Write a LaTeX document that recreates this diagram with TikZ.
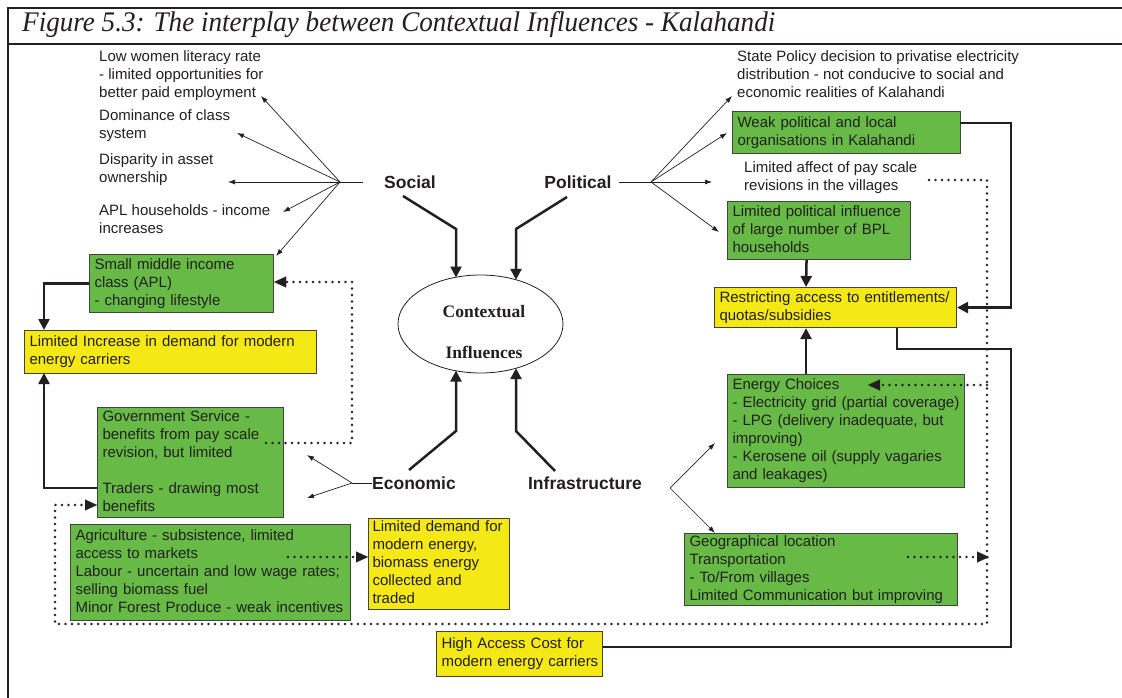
\documentclass[tikz,border=0pt]{standalone}
\usepackage{fontspec}
\setmainfont{Liberation Sans}
\newfontfamily\capfont{Liberation Serif}
\usetikzlibrary{arrows.meta,shapes.geometric}

\definecolor{ink}{HTML}{231F20}
\definecolor{boxgreen}{HTML}{67BA45}
\definecolor{boxyellow}{HTML}{F4E915}

% stacked, left-aligned lines that never rewrap
\newcommand\lns[1]{\begin{tabular}{@{}l@{}}#1\end{tabular}}

\begin{document}
\begin{tikzpicture}[x=1pt,y=-1pt,
  font=\fontsize{15}{18}\selectfont,
  every node/.style={text=ink},
  panel/.style={draw=ink!85, line width=1.1pt, anchor=north west,
    inner xsep=5pt, inner ysep=0pt, align=left},
  gbox/.style={panel, fill=boxgreen},
  ybox/.style={panel, fill=boxyellow},
  plain/.style={anchor=west, inner sep=0pt, align=left},
  factor/.style={font=\bfseries\fontsize{17.5}{20}\selectfont, inner sep=0pt},
  fan/.style={draw=ink, line width=0.7pt},
  fanarrow/.style={fan, -{Latex[length=7pt,width=5pt]}},
  heavy/.style={draw=ink, line width=2.5pt},
  feed/.style={heavy, -{Triangle[length=11pt,width=11pt]}},
  dots/.style={draw=ink, line width=2.7pt, line cap=round, dash pattern=on 0pt off 6.5pt},
  dotarrow/.style={dots, -{Triangle[length=12pt,width=11pt,line width=0.1pt]}}
]
\fill[white] (0,0) rectangle (1122,698);
\useasboundingbox (0,0) rectangle (1122,698);

% frame and caption
\draw[ink, line width=2pt] (1122,8) -- (8,8) -- (8,698);
\draw[ink, line width=2pt] (8,44) -- (1122,44);
\node[anchor=base west, inner sep=0pt] (title) at (22,32)
  {\resizebox{753pt}{20pt}{\capfont\itshape Figure 5.3: The interplay between Contextual Influences - Kalahandi}};

% central ellipse
\node[draw=ink, ellipse, line width=0.8pt, minimum width=165pt, minimum height=98pt, inner sep=0pt] (ctx) at (480.5,324) {};
\node[align=center, inner sep=0pt, font=\capfont\bfseries\fontsize{17.5}{41}\selectfont] (ctxtext) at (484,332.5)
  {Contextual\\Influences};

% the four influences
\node[factor] (social) at (410,182) {Social};
\node[factor] (political) at (578,182) {Political};
\node[factor] (economic) at (414,483) {Economic};
\node[factor] (infra) at (585,483) {Infrastructure};

% thick feeds into the ellipse
\draw[feed] (403,196) -- (456,229) -- (456,277.5);
\draw[feed] (567,197) -- (516,229) -- (516,279.8);
\draw[feed] (409,470) -- (456,431) -- (456,370.6);
\draw[feed] (555,471) -- (516,431) -- (516,368.2);

% ---- social side ----
\node[plain] (lowlit) at (99,76) {\lns{Low women literacy rate\\- limited opportunities for\\better paid employment}};
\node[plain] (domin) at (99,126) {\lns{Dominance of class\\system}};
\node[plain] (disp) at (99,170) {\lns{Disparity in asset\\ownership}};
\node[plain] (aplh) at (99,221) {\lns{APL households - income\\increases}};

\node[gbox, minimum width=184pt, minimum height=58pt, text width=174pt] (smi) at (89,254)
  {\lns{Small middle income\\class (APL)\\- changing lifestyle}};
\node[ybox, minimum width=292pt, minimum height=43pt, text width=282pt] (lid) at (24,330)
  {\lns{Limited Increase in demand for modern\\energy carriers}};

\coordinate (sj) at (340,182);
\coordinate (sjt) at (363,182);
\coordinate (tlow) at (261,96);
\coordinate (tdom) at (237,133);
\coordinate (tdis) at (228,182);
\coordinate (tapl) at (283,212);
\draw[fan] (sjt) -- (sj);
\draw[fanarrow] (sj) -- (tlow);
\draw[fanarrow] (sj) -- (tdom);
\draw[fanarrow] (sj) -- (tdis);
\draw[fanarrow] (sj) -- (tapl);
\draw[fanarrow] (sj) -- ([shift={(2pt,-2pt)}]smi.north east);

% ---- economic side ----
\node[gbox, minimum width=186pt, minimum height=110pt, text width=176pt] (gov) at (97,407)
  {\lns{Government Service -\\benefits from pay scale\\revision, but limited\\ \\Traders - drawing most\\benefits}};
\node[gbox, minimum width=280pt, minimum height=96pt, text width=270pt] (agr) at (70,524)
  {\lns{Agriculture - subsistence, limited\\access to markets\\Labour - uncertain and low wage rates;\\selling biomass fuel\\Minor Forest Produce - weak incentives}};
\node[ybox, minimum width=141pt, minimum height=91pt, inner xsep=4pt, text width=133pt] (ldm) at (368,518)
  {\lns{Limited demand for\\modern energy,\\biomass energy\\collected and\\traded}};
\node[ybox, minimum width=166pt, minimum height=45pt, text width=156pt] (hac) at (436,631)
  {\lns{High Access Cost for\\modern energy carriers}};

\coordinate (ej) at (352,483);
\coordinate (tgov1) at (307,455);
\coordinate (tgov2) at (307,498);
\draw[fan] (economic.west) -- (ej);
\draw[fanarrow] (ej) -- (tgov1);
\draw[fanarrow] (ej) -- (tgov2);

% solid links on the left
\coordinate (lidtop) at (44,330);
\coordinate (lidbot) at (44,373);
\coordinate (govtr) at (97,488);
\draw[feed] (smi.west) -| (lidtop);
\draw[feed] (govtr) -| (lidbot);

% dotted links on the left
\coordinate (govpay) at (266,443);
\draw[dotarrow] (govpay) -- (352,443) -- (352,282) -- (smi.east |- 0,282);
\coordinate (agrmk) at (288,557);
\draw[dotarrow] (agrmk) -- (ldm.west |- 0,557);

% ---- political side ----
\node[plain] (state) at (737,76) {\lns{State Policy decision to privatise electricity\\distribution - not conducive to social and\\economic realities of Kalahandi}};
\node[gbox, minimum width=228pt, minimum height=42pt, text width=218pt] (weak) at (732,111)
  {\lns{Weak political and local\\organisations in Kalahandi}};
\node[plain] (payrev) at (744,177.5) {\lns{Limited affect of pay scale\\revisions in the villages}};
\node[gbox, minimum width=183pt, minimum height=58pt, text width=173pt] (lpi) at (727,201)
  {\lns{Limited political influence\\of large number of BPL\\households}};
\node[ybox, minimum width=242pt, minimum height=40pt, text width=232pt] (rst) at (714,287)
  {\lns{Restricting access to entitlements/\\quotas/subsidies}};

\coordinate (pj) at (651,182);
\coordinate (pjt) at (619,182);
\coordinate (tstate) at (732,96);
\coordinate (tweak) at (727,133);
\coordinate (tpay) at (712,182);
\coordinate (tlpi) at (719,232);
\draw[fan] (pjt) -- (pj);
\draw[fanarrow] (pj) -- (tstate);
\draw[fanarrow] (pj) -- (tweak);
\draw[fanarrow] (pj) -- (tpay);
\draw[fanarrow] (pj) -- (tlpi);

% ---- infrastructure side ----
\node[gbox, minimum width=237pt, minimum height=113pt, text width=227pt] (enc) at (727,374)
  {\lns{Energy Choices\\- Electricity grid (partial coverage)\\- LPG (delivery inadequate, but\\improving)\\- Kerosene oil (supply vagaries\\and leakages)}};
\node[gbox, minimum width=273pt, minimum height=72pt, text width=263pt] (geo) at (684,533)
  {\lns{Geographical location\\Transportation\\- To/From villages\\Limited Communication but improving}};

\coordinate (ij) at (670,488);
\coordinate (tenc) at (715,443);
\coordinate (tgeo) at (715,533);
\draw[fanarrow] (ij) -- (tenc);
\draw[fanarrow] (ij) -- (tgeo);

% solid links on the right
\coordinate (wkout) at (960,123);
\draw[feed] (wkout) -- (1011,123) |- (rst.east);
\draw[feed] ([xshift=-12.5pt]lpi.south) -- ([xshift=92pt]rst.north west);
\draw[feed] ([xshift=79pt]enc.north west) -- ([xshift=92pt]rst.south west);
\draw[heavy] ([xshift=183pt]rst.south west) -- (897,349) -- (1011,349) -- (1011,647) -- (hac.east |- 0,647);

% dotted links on the right
\coordinate (payout) at (929,180);
\draw[dotarrow] (payout) -- (987,180) -- (987,624) -- (55,624) -- (55,505) -- (gov.west |- 0,505);
\draw[dotarrow] (987,385) -- (868,385);
\coordinate (geoout) at (908,557);
\draw[dotarrow] (geoout) -- (989,557);
\end{tikzpicture}
\end{document}
